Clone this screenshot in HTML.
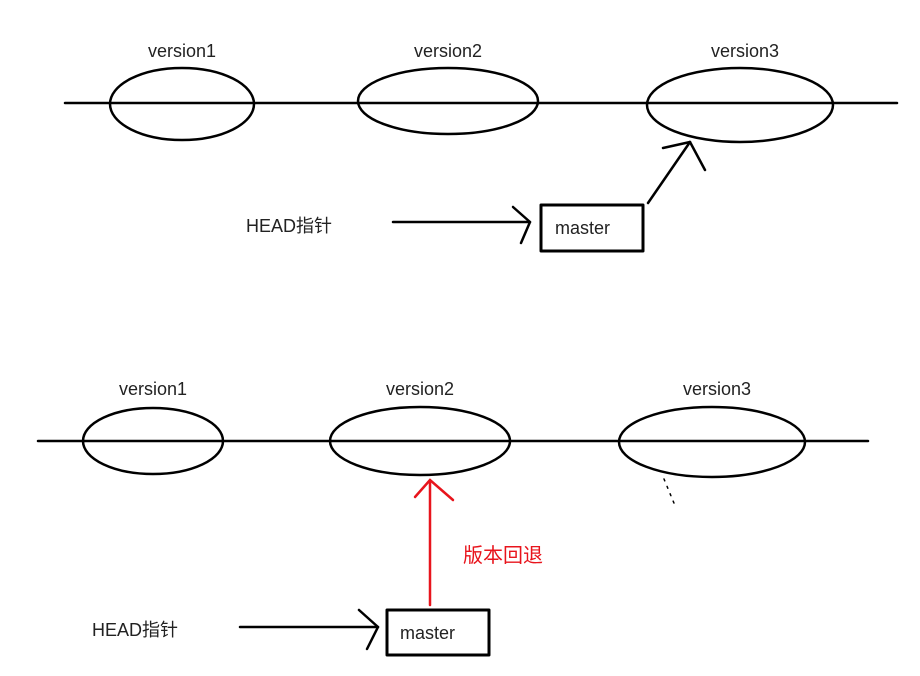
<!DOCTYPE html>
<html><head><meta charset="utf-8"><style>
html,body{margin:0;padding:0;background:#fff;}
svg{display:block;}
text{font-family:"Liberation Sans","Noto Sans CJK SC",sans-serif;font-size:18px;fill:#222;}
</style></head><body>
<svg width="920" height="676" viewBox="0 0 920 676" xmlns="http://www.w3.org/2000/svg">
<g fill="none" stroke="#000" stroke-width="2.5" stroke-linecap="round" stroke-linejoin="round">
<line x1="65" y1="103" x2="897" y2="103"/>
<ellipse cx="182" cy="104" rx="72" ry="36"/>
<ellipse cx="448" cy="101" rx="90" ry="33"/>
<ellipse cx="740" cy="105" rx="93" ry="37"/>
<line x1="393" y1="222" x2="530" y2="222"/>
<polyline points="513,207 530,222 521,243"/>
<rect x="541" y="205" width="102" height="46" stroke-width="3"/>
<line x1="648" y1="203" x2="690" y2="142"/>
<polyline points="663,148 690,142 705,170"/>

<line x1="38" y1="441" x2="868" y2="441"/>
<ellipse cx="153" cy="441" rx="70" ry="33"/>
<ellipse cx="420" cy="441" rx="90" ry="34"/>
<ellipse cx="712" cy="442" rx="93" ry="35"/>
<line x1="240" y1="627" x2="378" y2="627"/>
<polyline points="359,610 378,627 367,649"/>
<rect x="387" y="610" width="102" height="45" stroke-width="3"/>
<line x1="664" y1="479" x2="676" y2="508" stroke-width="1.5" stroke-dasharray="2,6"/>
</g>
<g fill="none" stroke="#e8141c" stroke-width="2.5" stroke-linecap="round">
<line x1="430" y1="605" x2="430" y2="481"/>
<polyline points="415,497 430,480 453,500"/>
</g>
<text x="182" y="57" text-anchor="middle">version1</text>
<text x="448" y="57" text-anchor="middle">version2</text>
<text x="745" y="57" text-anchor="middle">version3</text>
<text x="246" y="232">HEAD指针</text>
<text x="555" y="234">master</text>
<text x="153" y="395" text-anchor="middle">version1</text>
<text x="420" y="395" text-anchor="middle">version2</text>
<text x="717" y="395" text-anchor="middle">version3</text>
<text x="92" y="636">HEAD指针</text>
<text x="400" y="639">master</text>
<text x="463" y="562" style="fill:#e8141c;font-size:20px">版本回退</text>
</svg>
</body></html>
